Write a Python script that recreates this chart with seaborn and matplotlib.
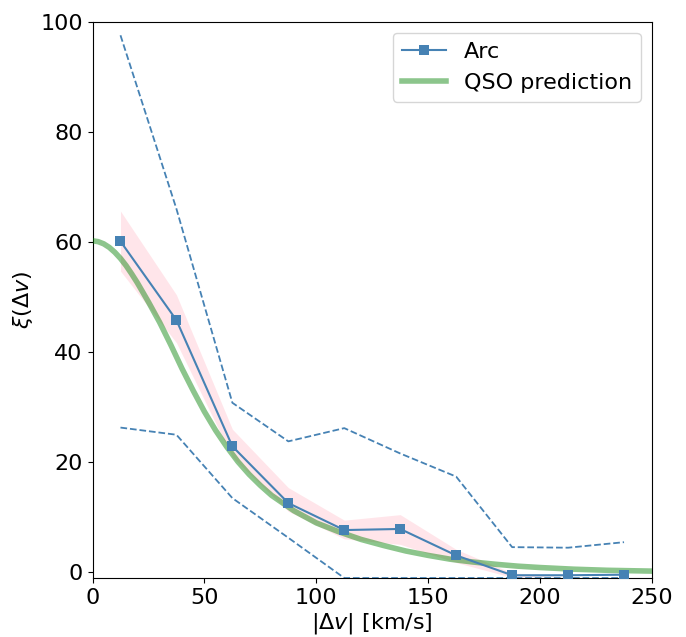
import numpy as np
import pandas as pd
import matplotlib
matplotlib.use("Agg")
import matplotlib.pyplot as plt
import seaborn as sns

# ---- data ----
dv = [12.5, 37.5, 62.5, 87.5, 112.5, 137.5, 162.5, 187.5, 212.5, 237.5]
arc = [60.1, 45.8, 22.9, 12.6, 7.7, 7.9, 3.1, -0.5, -0.5, -0.4]
band_lo = [54.7, 41.7, 20.9, 11.1, 6.1, 5.1, 1.8, -0.9, -0.5, -0.4]
band_hi = [65.6, 50.4, 26.0, 15.4, 9.5, 10.5, 4.2, -0.1, -0.5, -0.4]
upper = [97.5, 66.0, 30.8, 23.8, 26.2, 21.6, 17.4, 4.6, 4.5, 5.5]
lower = [26.3, 25.0, 13.5, 6.3, -1.0, -1.0, -1.0, -1.0, -1.0, -1.0]

qso_x = [0, 2.5, 5, 7.5, 10, 12.5, 15, 17.5, 20, 25, 30, 35, 40, 45, 50, 55, 60,
         65, 70, 75, 80, 90, 100, 110, 120, 130, 140, 150, 160, 170, 180, 190,
         200, 215, 230, 250]
qso_y = [60.2, 60.05, 59.65, 59.0, 58.1, 57.0, 55.7, 54.2, 52.6, 49.1, 45.4,
         41.3, 37.0, 33.0, 29.2, 25.8, 22.8, 20.1, 17.8, 15.8, 14.0, 11.2, 9.0,
         7.4, 6.0, 4.9, 3.9, 3.1, 2.4, 1.9, 1.5, 1.15, 0.9, 0.6, 0.4, 0.25]

xticks = [0, 50, 100, 150, 200, 250]
yticks = [0, 20, 40, 60, 80, 100]

df = pd.DataFrame({"dv": dv, "arc": arc, "lo": band_lo, "hi": band_hi,
                   "upper": upper, "lower": lower})
qso = pd.DataFrame({"dv": qso_x, "xi": qso_y})

plt.rcParams["font.size"] = 16
fig = plt.figure(figsize=(6.86, 6.37), dpi=100)
ax = fig.add_axes([92.5 / 686, (637 - 578) / 637, (652 - 92.5) / 686, (578 - 21.5) / 637])

ax.fill_between(df["dv"], df["lo"], df["hi"], color="pink", alpha=0.4, lw=0)
sns.lineplot(data=qso, x="dv", y="xi", ax=ax, color="green", alpha=0.45, lw=4,
             label="QSO prediction", zorder=3)
sns.lineplot(data=df, x="dv", y="arc", ax=ax, color="steelblue", lw=1.5,
             marker="s", markersize=7, markeredgewidth=0, label="Arc", zorder=4)
sns.lineplot(data=df, x="dv", y="upper", ax=ax, color="steelblue", lw=1.3,
             linestyle="--", zorder=4)
sns.lineplot(data=df, x="dv", y="lower", ax=ax, color="steelblue", lw=1.3,
             linestyle="--", zorder=4)

ax.set_xlim(0, 250)
ax.set_ylim(-1, 100)
ax.set_xticks(xticks)
ax.set_yticks(yticks)
ax.set_xlabel(r"$|\Delta v|$ [km/s]", fontsize=16, labelpad=2)
ax.set_ylabel(r"$\xi(\Delta v)$", fontsize=16)
ax.tick_params(labelsize=16)

h, l = ax.get_legend_handles_labels()
order = [l.index("Arc"), l.index("QSO prediction")]
ax.legend([h[i] for i in order], [l[i] for i in order], loc="upper right", fontsize=16)

fig.savefig("out.png", dpi=100)
